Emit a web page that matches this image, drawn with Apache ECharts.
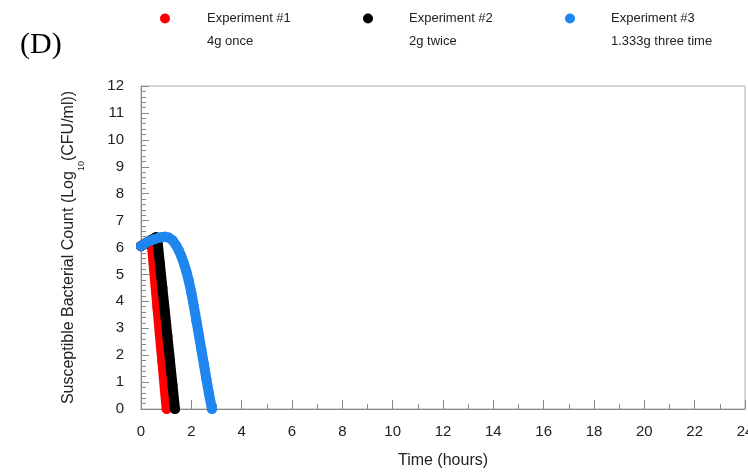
<!DOCTYPE html>
<html>
<head>
<meta charset="utf-8">
<script src="https://cdn.jsdelivr.net/npm/echarts@6/dist/echarts.min.js"></script>
<style>html,body{margin:0;padding:0;background:#fff}#c{width:748px;height:472px}</style>
</head>
<body>
<div id="c"></div>
<script>
const xTicks = [0, 24, 2];
const yTicks = [0, 12, 1];
const names = ['Experiment #1', 'Experiment #2', 'Experiment #3'];
const subtitles = ['4g once', '2g twice', '1.333g three time'];
const colors = ['#ff0000', '#000000', '#1f86ef'];
const exp1 = [[0,6.05],[0.2,6.15],[0.38,6.22],[0.44,6.0],[0.55,4.85],[0.65,3.8],[0.75,2.75],[0.85,1.75],[0.95,0.7],[1.02,0]];
const exp2 = [[0,6.05],[0.2,6.17],[0.4,6.28],[0.6,6.38],[0.66,6.2],[0.75,5.4],[0.85,4.5],[0.95,3.6],[1.05,2.7],[1.15,1.8],[1.25,0.9],[1.35,0]];
const exp3 = [[0,6.05],[0.25,6.2],[0.5,6.3],[0.75,6.37],[0.95,6.4],[1.1,6.37],[1.25,6.27],[1.4,6.07],[1.5,5.9],[1.6,5.68],[1.7,5.42],[1.8,5.12],[1.9,4.76],[2.0,4.32],[2.1,3.82],[2.2,3.28],[2.3,2.74],[2.4,2.2],[2.5,1.66],[2.6,1.1],[2.7,0.57],[2.82,0]];
const seriesData = [exp1, exp2, exp3];

const chart = echarts.init(document.getElementById('c'));
const dotCenters = [165, 368, 570];
const textLefts = [207, 409, 611];
const option = {
  animation: false,
  grid: {left: 141, top: 86, right: 3, bottom: 63, show: true, borderColor: '#b0b0b0', borderWidth: 1, containLabel: false, outerBoundsMode: 'none'},
  legend: names.map((n, i) => ({
    data: [n], left: dotCenters[i] - 5, top: 12, padding: 0, icon: 'circle', itemWidth: 10, itemHeight: 10,
    selectedMode: false,
    textStyle: {fontFamily: 'Liberation Sans', fontSize: 13, color: '#222', padding: [0, 0, 0, textLefts[i] - dotCenters[i] - 10]}
  })),
  graphic: [
    {type: 'text', left: 20, top: 30, style: {text: '(D)', font: '30px "Liberation Serif"', fill: '#000'}}
  ].concat(subtitles.map((s, i) => ({
    type: 'text', left: textLefts[i], top: 35,
    style: {text: s, font: '13px "Liberation Sans"', fill: '#222'}
  }))),
  xAxis: {
    type: 'value', min: xTicks[0], max: xTicks[1], interval: xTicks[2],
    name: 'Time (hours)', nameLocation: 'middle', nameGap: 44,
    nameTextStyle: {fontFamily: 'Liberation Sans', fontSize: 16, color: '#222'},
    axisLine: {lineStyle: {color: '#888'}},
    axisTick: {inside: true, length: 9, lineStyle: {color: '#888'}},
    minorTick: {show: true, splitNumber: 2, length: 5, lineStyle: {color: '#888'}},
    axisLabel: {margin: 15, fontFamily: 'Liberation Sans', fontSize: 15, color: '#222'},
    splitLine: {show: false}
  },
  yAxis: {
    type: 'value', min: yTicks[0], max: yTicks[1], interval: yTicks[2],
    name: '{a|Susceptible Bacterial Count (Log}{s|10}{a|(CFU/ml))}',
    nameLocation: 'middle', nameGap: 64,
    nameTextStyle: {
      rich: {
        a: {fontFamily: 'Liberation Sans', fontSize: 16, color: '#222'},
        s: {fontFamily: 'Liberation Sans', fontSize: 9, color: '#222', verticalAlign: 'bottom', padding: [0, 0, -9, 0]}
      }
    },
    axisLine: {show: true, lineStyle: {color: '#888'}},
    axisTick: {show: true, inside: true, length: 8, lineStyle: {color: '#888'}},
    minorTick: {show: true, splitNumber: 5, length: 5, lineStyle: {color: '#888'}},
    axisLabel: {margin: 17, fontFamily: 'Liberation Sans', fontSize: 15, color: '#222'},
    splitLine: {show: false}
  },
  series: seriesData.map((d, i) => ({
    name: names[i], type: 'line', data: d, color: colors[i],
    symbol: 'circle', symbolSize: 10, showSymbol: true,
    lineStyle: {width: 10, cap: 'round', join: 'round', color: colors[i]},
    itemStyle: {color: colors[i]}, z: 2 + i
  }))
};
chart.setOption(option);
</script>
</body>
</html>
